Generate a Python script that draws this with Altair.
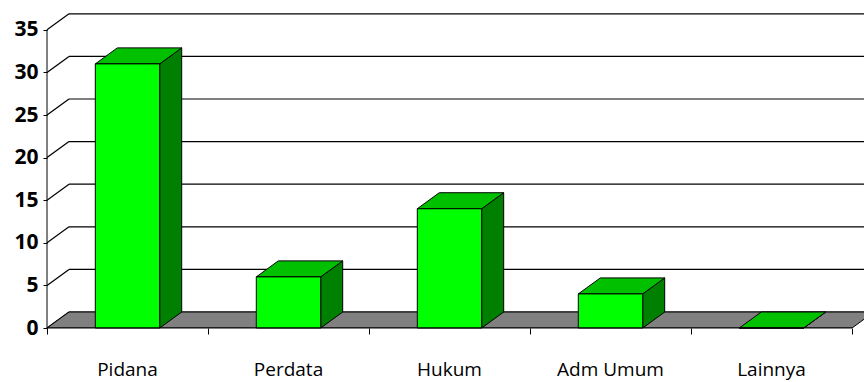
import altair as alt
import pandas as pd

# Case counts per category
categories = ["Pidana", "Perdata", "Hukum", "Adm Umum", "Lainnya"]
values = [31, 6, 14, 4, 0]
y_ticks = [0, 5, 10, 15, 20, 25, 30, 35]
x_ticks = [0, 1, 2, 3, 4, 5]

# Pseudo-3D geometry (in data units): depth offset and bar half-width
DX = 22 / 161
DY = 16 / 8.52
HALF_W = 0.2
X_MAX = 817 / 161
Y_MAX = 318 / 8.52

FRONT = "#00FF00"
TOP = "#00C000"
SIDE = "#008000"
FLOOR = "#808080"

xs = alt.Scale(domain=[0, X_MAX], nice=False, zero=False)
ys = alt.Scale(domain=[0, Y_MAX], nice=False, zero=False)
x_axis = alt.Axis(values=x_ticks, labels=False, tickSize=6, tickColor="black",
                  domain=False, grid=False, title=None)
y_axis = alt.Axis(values=y_ticks, tickSize=4, tickColor="black", domain=False,
                  grid=False, title=None, labelFont="Open Sans",
                  labelFontWeight="bold", labelFontSize=21, labelColor="black",
                  labelPadding=5)


def X(field, **kw):
    return alt.X(field, scale=xs, axis=x_axis, **kw)


def Y(field, **kw):
    return alt.Y(field, scale=ys, axis=y_axis, **kw)


# Walls: left-wall diagonals and back-wall gridlines
walls = pd.DataFrame({"v": y_ticks})
walls["vb"] = walls["v"] + DY
walls["x0"] = 0.0
walls["xb"] = DX
walls["xe"] = X_MAX + 1

left_wall = alt.Chart(walls).mark_rule(color="black", strokeWidth=1.2).encode(
    x=X("x0:Q"), x2="xb:Q", y=Y("v:Q"), y2="vb:Q")
back_wall = alt.Chart(walls).mark_rule(color="black", strokeWidth=1.2, clip=True).encode(
    x=X("xb:Q"), x2="xe:Q", y=Y("vb:Q"))

# Floor parallelogram
floor_df = pd.DataFrame({"y": [0, DY], "xa": [0, DX], "xb": [5, 5 + DX]})
floor = alt.Chart(floor_df).mark_area(
    orient="horizontal", color=FLOOR, stroke="black", strokeWidth=1, clip=True
).encode(y=Y("y:Q"), x=X("xa:Q", stack=False), x2="xb:Q")

# Bar faces
front_rows, side_rows, top_rows = [], [], []
for i, (c, v) in enumerate(zip(categories, values)):
    x0, x1 = i + 0.5 - HALF_W, i + 0.5 + HALF_W
    front_rows.append({"cat": c, "x0": x0, "x1": x1, "v": v, "base": 0})
    side_rows += [{"cat": c, "x": x1, "lo": 0, "hi": v},
                  {"cat": c, "x": x1 + DX, "lo": DY, "hi": v + DY}]
    top_rows += [{"cat": c, "y": v, "xa": x0, "xb": x1},
                 {"cat": c, "y": v + DY, "xa": x0 + DX, "xb": x1 + DX}]

sides = alt.Chart(pd.DataFrame(side_rows)).mark_area(
    orient="vertical", color=SIDE, stroke="black", strokeWidth=1
).encode(x=X("x:Q"), y=Y("hi:Q", stack=False), y2="lo:Q", detail="cat:N")

tops = alt.Chart(pd.DataFrame(top_rows)).mark_area(
    orient="horizontal", color=TOP, stroke="black", strokeWidth=1
).encode(y=Y("y:Q"), x=X("xa:Q", stack=False), x2="xb:Q", detail="cat:N")

fronts = alt.Chart(pd.DataFrame(front_rows)).mark_rect(
    color=FRONT, stroke="black", strokeWidth=1
).encode(x=X("x0:Q"), x2="x1:Q", y=Y("base:Q"), y2="v:Q")

# Front axis lines
y_line = alt.Chart(pd.DataFrame({"x": [0], "a": [0], "b": [35]})).mark_rule(
    color="black", strokeWidth=1).encode(x=X("x:Q"), y=Y("a:Q"), y2="b:Q")
x_line = alt.Chart(pd.DataFrame({"y": [0], "a": [0], "b": [5]})).mark_rule(
    color="black", strokeWidth=1).encode(y=Y("y:Q"), x=X("a:Q"), x2="b:Q")

# Category labels under the floor
lab_df = pd.DataFrame({"cat": categories,
                       "x": [i + 0.5 for i in range(len(categories))],
                       "y": [0] * len(categories)})
labels = alt.Chart(lab_df).mark_text(
    font="Open Sans", fontSize=19, color="black", align="center",
    baseline="alphabetic", dy=48
).encode(x=X("x:Q"), y=Y("y:Q"), text="cat:N")

chart = alt.layer(
    left_wall, back_wall, floor, sides, tops, fronts, y_line, x_line, labels
).properties(
    width=817, height=318,
    autosize=alt.AutoSizeParams(type="none"),
    padding={"left": 47, "top": 10, "right": 0, "bottom": 54},
    background="white",
).configure_view(strokeWidth=0)

chart.save("out.html", embed_options={"renderer": "svg", "actions": False})
